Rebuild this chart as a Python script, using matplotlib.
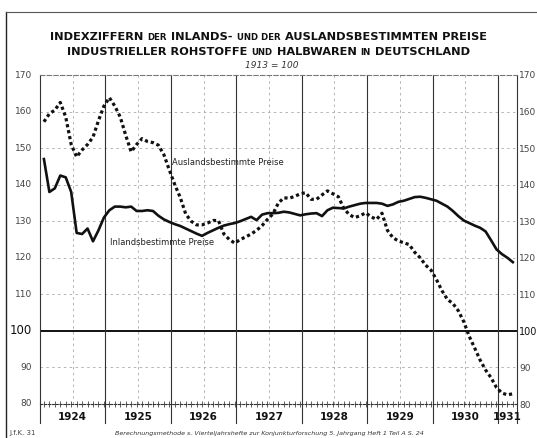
import numpy as np
import matplotlib.pyplot as plt
from matplotlib.offsetbox import TextArea, HPacker, AnchoredOffsetbox
from matplotlib.lines import Line2D

# monthly values, Jan 1924 .. Mar 1931 (1913 = 100)
inland = [147.0, 138.0, 139.0, 142.5, 142.0, 138.0, 126.8, 126.5, 128.0, 124.5,
          127.5, 131.0, 133.0, 134.0, 134.0, 133.8, 134.0, 132.8, 132.8, 133.0,
          132.8, 131.5, 130.5, 129.8, 129.2, 128.7, 128.0, 127.3, 126.6, 126.0,
          126.8, 127.5, 128.2, 128.8, 129.2, 129.5, 130.0, 130.6, 131.2, 130.3,
          131.8, 132.2, 132.2, 132.3, 132.6, 132.4, 132.0, 131.6, 131.9, 132.1,
          132.2, 131.4, 133.0, 133.7, 133.6, 133.5, 134.0, 134.4, 134.8, 135.0,
          135.0, 135.0, 134.8, 134.2, 134.6, 135.3, 135.6, 136.1, 136.6, 136.7,
          136.4, 136.0, 135.6, 134.8, 134.0, 132.8, 131.4, 130.2, 129.5, 128.8,
          128.2, 127.2, 124.8, 122.3, 121.0, 120.0, 118.8]
ausland = [157.2, 159.4, 160.4, 162.5, 158.5, 151.0, 147.6, 149.5, 151.0, 153.0,
           157.5, 161.5, 163.8, 161.5, 158.5, 153.5, 149.0, 151.0, 152.6, 151.8,
           151.5, 150.8, 148.2, 144.0, 140.0, 136.5, 132.0, 130.0, 129.0, 129.0,
           129.5, 130.2, 130.2, 126.5, 125.0, 124.0, 125.0, 125.7, 126.5, 127.5,
           128.8, 130.5, 132.0, 135.0, 136.4, 136.3, 136.8, 137.5, 137.8, 136.0,
           136.0, 137.2, 138.3, 137.5, 136.7, 133.5, 131.8, 131.0, 131.5, 132.3,
           131.2, 130.5, 132.2, 127.5, 125.5, 124.6, 124.1, 123.6, 121.5, 120.0,
           118.0, 116.6, 114.0, 111.0, 108.6, 107.5, 105.5, 102.5, 98.5, 95.3,
           92.0, 89.3, 87.2, 84.5, 83.0, 82.5, 82.8]
years = [1924, 1925, 1926, 1927, 1928, 1929, 1930, 1931]
yticks = [80, 90, 100, 110, 120, 130, 140, 150, 160, 170]

months = np.arange(len(inland))
t = 1924.06 + months / 12.0
x_end = 1931.29

ink = '#111111'
fig = plt.figure(figsize=(5.37, 4.38), dpi=100)
ax = fig.add_axes([40 / 537, 34 / 438, 477 / 537, 329 / 438])
ax.set_xlim(1924, x_end)
ax.set_ylim(80, 170)

# grid
for v in yticks[1:-1]:
    if v == 100:
        ax.axhline(v, color=ink, lw=1.4, zorder=1)
    else:
        ax.axhline(v, color='#a8a8a8', lw=0.6, dashes=(3, 4), zorder=1)
for y in years:
    if y > 1924:
        ax.axvline(y, ymin=-0.058, ymax=1, color='#333333', lw=0.8,
                   clip_on=False, zorder=1)
    ax.axvline(y + 0.5, color='#a8a8a8', lw=0.6, dashes=(3, 4), zorder=1)

ax.plot(t, ausland, color=ink, lw=2.3, linestyle=(0, (1, 0.9)), zorder=3)
ax.plot(t, inland, color=ink, lw=1.9, zorder=4, solid_joinstyle='round')

ax.text(1926.02, 146.0, 'Auslandsbestimmte Preise', fontsize=6,
        va='center', color='#222222')
ax.text(1925.07, 124.3, 'Inlandsbestimmte Preise', fontsize=6,
        va='center', color='#222222')

# spines
for s in ['left', 'right']:
    ax.spines[s].set_bounds(80, 170)
    ax.spines[s].set_color('#333333')
    ax.spines[s].set_linewidth(0.8)
ax.spines['top'].set_color('#777777')
ax.spines['top'].set_linewidth(0.8)
ax.spines['top'].set_linestyle((0, (4, 2)))
ax.spines['bottom'].set_color('#333333')
ax.spines['bottom'].set_linewidth(0.8)
ax.spines['bottom'].set_linestyle((0, (2, 1.5)))
for xx in [0, 1]:
    ax.add_line(Line2D([xx, xx], [-0.058, 0], transform=ax.transAxes,
                       color='#333333', lw=0.8, clip_on=False))

# y labels on both sides
ax.set_yticks(yticks, labels=[str(v) for v in yticks])
ax.tick_params(axis='y', length=0, labelsize=6.5, labelcolor='#444444',
               left=False, right=False, labelleft=True, labelright=True,
               pad=3)
ax.tick_params(axis='y', which='major', pad=1.5, labelleft=False)
for tk in ax.yaxis.get_major_ticks():
    if tk.label2.get_text() == '100':
        tk.label2.set_fontsize(7)
        tk.label2.set_color(ink)
# left labels drawn separately to keep their own padding
for v in yticks:
    ax.text(-0.017, v, str(v), transform=ax.get_yaxis_transform(),
            ha='right', va='center',
            fontsize=8.5 if v == 100 else 6.5,
            color=ink if v == 100 else '#444444')

# month ticks along the base line, year labels below
ax.set_xticks(t, minor=True)
ax.set_xticks([])
ax.tick_params(axis='x', which='minor', direction='inout', length=4,
               width=0.6, color='#444444')
centers = [y + 0.5 for y in years[:-1]] + [(1931 + x_end) / 2]
for c, y in zip(centers, years):
    ax.text(c, -0.038, str(y), transform=ax.get_xaxis_transform(),
            ha='center', va='center', fontsize=7.5, fontweight='bold',
            color=ink)

# title, small caps style
big, small = 8.2, 6.2


def title_line(parts, ypos):
    boxes = [TextArea(s, textprops=dict(fontsize=fs, color=ink,
                                        fontweight='bold'))
             for s, fs in parts]
    pack = HPacker(children=boxes, align='baseline', pad=0, sep=3)
    box = AnchoredOffsetbox(loc='center', child=pack, frameon=False, pad=0,
                            borderpad=0, bbox_to_anchor=(0.5, ypos),
                            bbox_transform=fig.transFigure)
    fig.add_artist(box)


title_line([('INDEXZIFFERN', big), ('DER', small), ('INLANDS-', big),
            ('UND DER', small), ('AUSLANDSBESTIMMTEN PREISE', big)],
           1 - 37 / 438)
title_line([('INDUSTRIELLER ROHSTOFFE', big), ('UND', small),
            ('HALBWAREN', big), ('IN', small), ('DEUTSCHLAND', big)],
           1 - 52 / 438)
fig.text(272 / 537, 1 - 65 / 438, '1913 = 100', ha='center', va='center',
         fontsize=6.5, style='italic', color='#333333')

# footer
fig.text(9 / 537, 1 - 433 / 438, 'J.f.K. 31', ha='left', va='center',
         fontsize=5, color='#444444')
fig.text(115 / 537, 1 - 433 / 438,
         'Berechnungsmethode s. Vierteljahrshefte zur Konjunkturforschung '
         '5. Jahrgang Heft 1 Teil A S. 24',
         ha='left', va='center', fontsize=4.6, style='italic',
         color='#333333')

# frame of the sheet
fig.add_artist(Line2D([6 / 537, 6 / 537], [0, 1 - 12 / 438],
                      transform=fig.transFigure, color='#222222', lw=1.0))
fig.add_artist(Line2D([6 / 537, 1], [1 - 12 / 438, 1 - 12 / 438],
                      transform=fig.transFigure, color='#555555', lw=0.8))

fig.savefig('out.png', dpi=100)
